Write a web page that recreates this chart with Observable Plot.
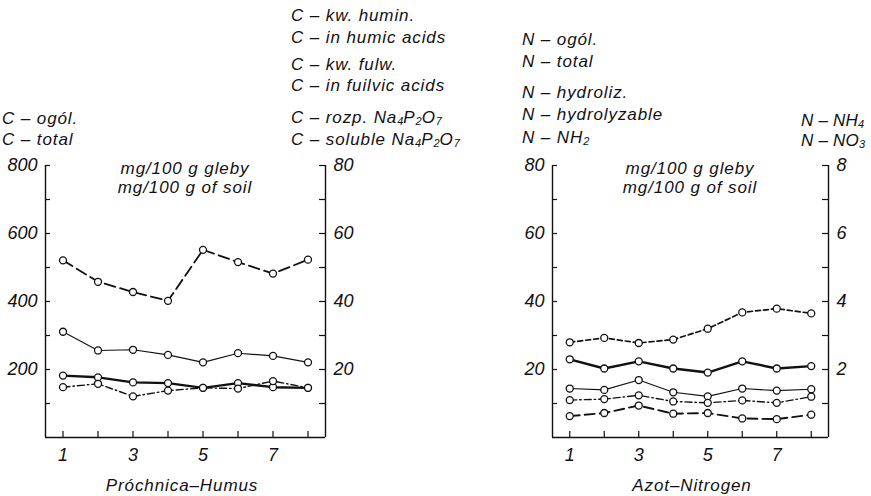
<!DOCTYPE html>
<html>
<head>
<meta charset="utf-8">
<script src="https://cdn.jsdelivr.net/npm/d3@7"></script>
<script src="https://cdn.jsdelivr.net/npm/@observablehq/plot@0.6"></script>
<style>
  html, body { margin: 0; padding: 0; background: #fff; }
  #chart { position: relative; width: 871px; height: 496px; overflow: hidden; background: #fff; }
  #chart svg { position: absolute; top: 0; }
  .lbl { position: absolute; font-family: "Liberation Sans", Arial, sans-serif; font-style: italic;
         font-size: 17px; letter-spacing: 0.9px; color: #111; white-space: nowrap; line-height: 1;
         transform: translateY(-50%); }
  .ctr { transform: translate(-50%, -50%); }
  .tight { letter-spacing: 0.2px; }
  .lbl sub { font-size: 11px; vertical-align: -2px; line-height: 0; letter-spacing: 0; }
</style>
</head>
<body>
<div id="chart"></div>
<script>
// ---- data ----
const samples = [1, 2, 3, 4, 5, 6, 7, 8];
const xTickLabels = [1, 3, 5, 7];
// Left panel (humus), left axis mg/100 g (0-800)
const cTotal = [521, 458, 428, 402, 552, 516, 482, 523];
// Left panel, right axis mg/100 g (0-80)
const cSoluble = [31.1, 25.6, 25.8, 24.3, 22.1, 24.8, 24.0, 22.1];
const cHumic = [18.2, 17.7, 16.2, 16.0, 14.6, 16.0, 14.8, 14.6];
const cFulvic = [14.8, 15.8, 12.1, 13.8, 14.6, 14.4, 16.6, 14.6];
const leftAxisTicks = [200, 400, 600, 800];
const leftMinorTicks = [100, 200, 300, 400, 500, 600, 700, 800];
// Right panel (nitrogen), left axis mg/100 g (0-80)
const nTotal = [23.0, 20.3, 22.4, 20.3, 19.1, 22.4, 20.3, 21.0];
const nHydro = [14.4, 14.0, 16.9, 13.3, 12.1, 14.4, 13.8, 14.2];
const nNH2 = [11.0, 11.3, 12.4, 10.6, 10.2, 10.9, 10.2, 12.0];
// Right panel, right axis mg/100 g (0-8)
const nNH4 = [2.80, 2.93, 2.78, 2.88, 3.20, 3.68, 3.79, 3.65];
const nNO3 = [0.63, 0.72, 0.94, 0.70, 0.72, 0.56, 0.54, 0.67];
const rightAxisTicks = [20, 40, 60, 80];
const rightMinorTicks = [10, 20, 30, 40, 50, 60, 70, 80];

const xDomain = [0.5, 8.5];
const rows = (arr, k = 1) => samples.map((s, i) => ({x: s, y: arr[i] * k}));

const H = 496, mTop = 165, mBottom = 59;
const font = {fontFamily: '"Liberation Sans", Arial, sans-serif', fontSize: "18px", fontStyle: "italic", background: "transparent", overflow: "visible", color: "#111"};

function panel({width, mLeft, mRight, yMax, yFmtRight, series, minor, major}) {
  const innerW = width - mLeft - mRight;
  const innerH = H - mTop - mBottom;
  const marks = [
    Plot.ruleX(xDomain, {stroke: "#111", strokeWidth: 1.4}),
    Plot.ruleY([0], {stroke: "#111", strokeWidth: 1.4}),
    Plot.tickY(minor, {y: d => d, insetRight: innerW - 5, stroke: "#111", strokeWidth: 1.2}),
    Plot.tickY(minor, {y: d => d, insetLeft: innerW - 6, stroke: "#111", strokeWidth: 1.2}),
    Plot.tickX(samples, {x: d => d, insetTop: innerH - 6, stroke: "#111", strokeWidth: 1.2}),
    Plot.axisY({anchor: "left", ticks: major, tickSize: 0, tickPadding: 8, label: null}),
    Plot.axisY({anchor: "right", ticks: major, tickSize: 0, tickPadding: 8, label: null, tickFormat: yFmtRight}),
    Plot.axisX({anchor: "bottom", ticks: xTickLabels, tickSize: 0, tickPadding: 11, label: null})
  ];
  for (const s of series) {
    marks.push(Plot.line(s.data, {x: "x", y: "y", stroke: "#111", strokeWidth: s.w, strokeDasharray: s.dash}));
  }
  for (const s of series) {
    marks.push(Plot.dot(s.data, {x: "x", y: "y", r: 3.5, fill: "white", stroke: "#111", strokeWidth: 1.3}));
  }
  return Plot.plot({
    width, height: H,
    marginLeft: mLeft, marginRight: mRight, marginTop: mTop, marginBottom: mBottom,
    x: {domain: xDomain, axis: null},
    y: {domain: [0, yMax], axis: null},
    style: font,
    marks
  });
}

const left = panel({
  width: 440, mLeft: 45, mRight: 115, yMax: 800,
  yFmtRight: d => d / 10,
  minor: leftMinorTicks, major: leftAxisTicks,
  series: [
    {data: rows(cTotal), w: 1.8, dash: "11,5"},
    {data: rows(cSoluble, 10), w: 1.1},
    {data: rows(cHumic, 10), w: 2.4},
    {data: rows(cFulvic, 10), w: 1.4, dash: "7,3,1.5,3"}
  ]
});
left.style.left = "0px";

const right = panel({
  width: 431, mLeft: 112, mRight: 43, yMax: 80,
  yFmtRight: d => d / 10,
  minor: rightMinorTicks, major: rightAxisTicks,
  series: [
    {data: rows(nNH4, 10), w: 1.7, dash: "5,3"},
    {data: rows(nTotal), w: 2.4},
    {data: rows(nHydro), w: 1.1},
    {data: rows(nNH2), w: 1.4, dash: "7,3,1.5,3"},
    {data: rows(nNO3, 10), w: 1.9, dash: "10,5"}
  ]
});
right.style.left = "440px";

const chart = document.getElementById("chart");
chart.appendChild(left);
chart.appendChild(right);

const labels = [
  {t: "C – ogól.", x: 2, y: 118},
  {t: "C – total", x: 2, y: 139},
  {t: "C – kw. humin.", x: 291, y: 15},
  {t: "C – in humic acids", x: 291, y: 37},
  {t: "C – kw. fulw.", x: 291, y: 64},
  {t: "C – in fuilvic acids", x: 291, y: 85},
  {t: "C – rozp. Na<sub>4</sub>P<sub>2</sub>O<sub>7</sub>", x: 291, y: 117},
  {t: "C – soluble Na<sub>4</sub>P<sub>2</sub>O<sub>7</sub>", x: 291, y: 139},
  {t: "N – ogól.", x: 522, y: 39},
  {t: "N – total", x: 522, y: 61},
  {t: "N – hydroliz.", x: 522, y: 92},
  {t: "N – hydrolyzable", x: 522, y: 114},
  {t: "N – NH<sub>2</sub>", x: 522, y: 137},
  {t: "N – NH<sub>4</sub>", x: 801, y: 120, k: "tight"},
  {t: "N – NO<sub>3</sub>", x: 801, y: 140, k: "tight"},
  {t: "mg/100 g gleby", x: 185, y: 168, c: true},
  {t: "mg/100 g of soil", x: 185, y: 187, c: true},
  {t: "mg/100 g gleby", x: 690, y: 168, c: true},
  {t: "mg/100 g of soil", x: 690, y: 187, c: true},
  {t: "Próchnica–Humus", x: 182, y: 485, c: true},
  {t: "Azot–Nitrogen", x: 692, y: 485, c: true}
];
for (const l of labels) {
  const d = document.createElement("div");
  d.className = "lbl" + (l.c ? " ctr" : "") + (l.k ? " " + l.k : "");
  d.innerHTML = l.t;
  d.style.left = l.x + "px";
  d.style.top = l.y + "px";
  chart.appendChild(d);
}
</script>
</body>
</html>
